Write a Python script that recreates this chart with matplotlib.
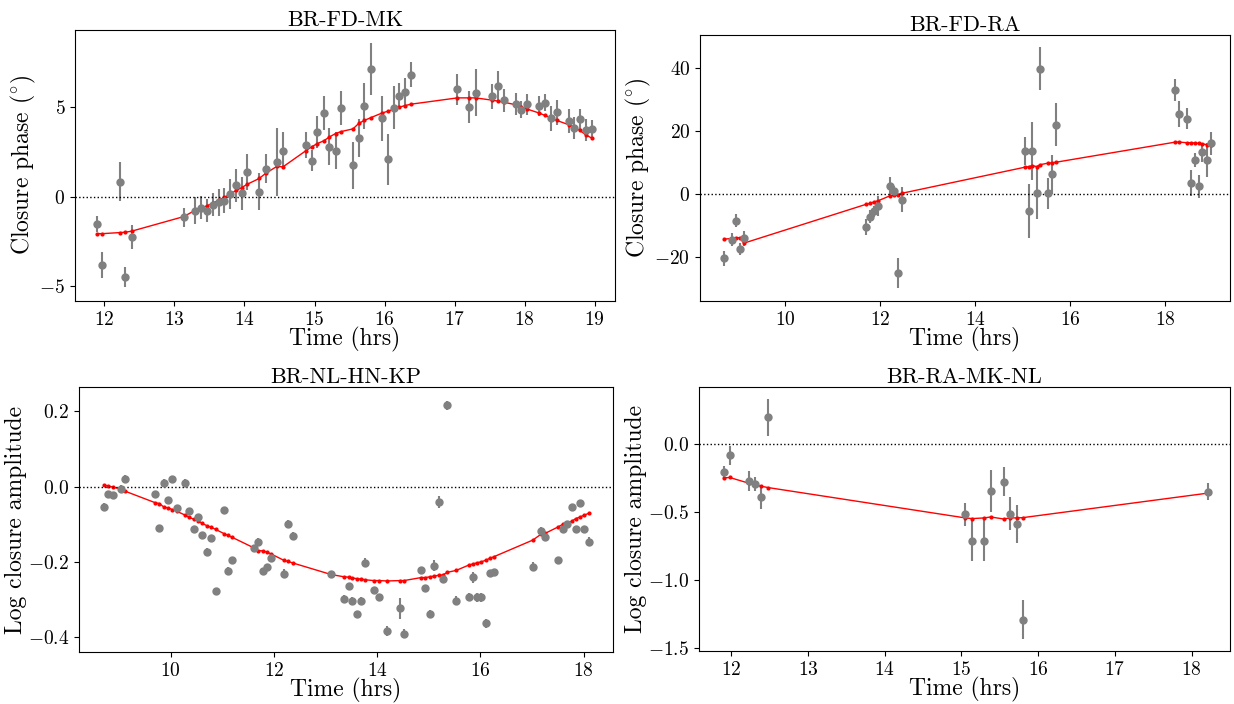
import matplotlib
matplotlib.use('Agg')
import matplotlib.pyplot as plt

plt.rcParams['font.family'] = 'serif'
plt.rcParams['font.serif'] = ['cmr10', 'DejaVu Serif']
plt.rcParams['mathtext.fontset'] = 'cm'
plt.rcParams['axes.formatter.use_mathtext'] = True

# BR-FD-MK closure phase
t_fdmk = [11.89, 11.97, 12.22, 12.30, 12.39, 13.13, 13.30, 13.38, 13.47, 13.55, 13.63, 13.71,
          13.80, 13.88, 13.96, 14.04, 14.21, 14.30, 14.46, 14.55, 14.88, 14.96, 15.04, 15.13,
          15.21, 15.30, 15.38, 15.55, 15.63, 15.71, 15.80, 15.96, 16.05, 16.13, 16.21, 16.29,
          16.38, 17.04, 17.21, 17.30, 17.54, 17.62, 17.70, 17.88, 17.95, 18.04, 18.21, 18.29,
          18.37, 18.46, 18.63, 18.71, 18.79, 18.87, 18.96]
cp_fdmk = [-1.53, -3.82, 0.84, -4.49, -2.25, -1.15, -0.78, -0.61, -0.78, -0.46, -0.31, -0.22,
           0.13, 0.62, 0.19, 1.38, 0.28, 1.56, 1.94, 2.57, 2.87, 2.01, 3.6, 4.66,
           2.79, 2.57, 4.96, 1.75, 3.26, 5.08, 7.13, 4.36, 2.07, 4.97, 5.64, 5.83,
           6.8, 6.0, 5.0, 5.81, 5.61, 6.18, 5.38, 5.16, 4.86, 5.16, 5.05, 5.25,
           4.36, 4.71, 4.23, 3.84, 4.32, 3.71, 3.78]
err_fdmk = [0.47, 0.75, 1.1, 0.58, 0.68, 0.54, 0.75, 0.65, 0.64, 0.65, 0.75, 0.7,
            0.84, 0.93, 0.93, 1.0, 1.04, 0.8, 1.9, 1.02, 0.72, 0.6, 0.88, 0.96,
            1.02, 1.05, 0.96, 1.3, 1.06, 1.28, 1.47, 1.23, 1.43, 1.18, 0.7, 0.81,
            0.7, 0.86, 0.87, 1.3, 0.7, 0.81, 0.65, 0.62, 0.5, 0.58, 0.56, 0.47,
            0.68, 0.7, 0.68, 0.62, 0.56, 0.6, 0.51]
model_fdmk = [-2.07, -2.07, -2.01, -1.99, -1.93, -1.12, -0.76, -0.67, -0.50, -0.37, -0.20, -0.05,
              0.15, 0.34, 0.50, 0.69, 1.01, 1.29, 1.68, 1.66, 2.57, 2.78, 2.96, 3.11,
              3.32, 3.52, 3.63, 3.78, 4.08, 4.25, 4.40, 4.66, 4.77, 4.88, 4.99, 5.08,
              5.16, 5.51, 5.51, 5.51, 5.38, 5.33, 5.27, 5.12, 5.01, 4.88, 4.66, 4.53,
              4.40, 4.25, 4.01, 3.86, 3.69, 3.45, 3.26]

# BR-FD-RA closure phase
t_fdra = [8.70, 8.87, 8.95, 9.04, 9.12, 11.70, 11.79, 11.87, 11.95, 12.20, 12.28, 12.37, 12.45,
          15.04, 15.13, 15.20, 15.29, 15.36, 15.53, 15.62, 15.70,
          18.21, 18.29, 18.45, 18.54, 18.62, 18.70, 18.78, 18.87, 18.96]
cp_fdra = [-20.5, -14.6, -8.5, -17.5, -14.1, -10.5, -7.2, -5.6, -3.8, 2.4, 0.8, -25.2, -1.8,
           13.7, -5.5, 13.7, 0.2, 39.9, 0.2, 6.2, 22.1,
           33.1, 25.4, 24.0, 3.4, 10.8, 2.4, 13.2, 10.8, 16.1]
err_fdra = [2.4, 2.0, 2.0, 2.0, 2.4, 2.5, 2.0, 1.9, 3.2, 3.0, 1.6, 4.9, 4.0,
            4.4, 8.6, 9.2, 8.1, 6.9, 4.9, 6.3, 6.7,
            3.6, 4.2, 3.2, 4.1, 2.2, 3.7, 3.1, 5.4, 3.7]
model_fdra = [-14.4, -14.2, -14.0, -13.9, -15.7, -3.3, -3.0, -2.5, -2.2, -0.6, -0.5, -0.2, 0.2,
              8.5, 8.7, 9.0, 8.7, 9.3, 9.8, 9.9, 10.1,
              16.5, 16.5, 16.3, 16.3, 16.2, 16.1, 15.9, 15.7, 15.6]

# BR-NL-HN-KP log closure amplitude
t_nlhn = [8.70, 8.78, 8.87, 9.04, 9.11, 9.70, 9.78, 9.86, 9.95, 10.03, 10.12, 10.28, 10.36,
          10.45, 10.53, 10.61, 10.70, 10.78, 10.87, 11.03, 11.11, 11.19, 11.61, 11.69, 11.78,
          11.86, 11.94, 12.19, 12.27, 12.36, 13.11, 13.36, 13.45, 13.52,
          13.61, 13.69, 13.77, 13.94, 14.03, 14.19, 14.44, 14.52, 14.85, 14.93, 15.02, 15.10,
          15.19, 15.27, 15.36, 15.53, 15.77, 15.85, 15.93, 16.02, 16.10, 16.18, 16.27, 17.02,
          17.18, 17.26, 17.51, 17.60, 17.68, 17.77, 17.85, 17.93, 18.01, 18.10]
lca_nlhn = [-0.053, -0.020, -0.022, -0.007, 0.020, -0.020, -0.109, 0.009, -0.035, 0.021, -0.057,
            0.010, -0.065, -0.114, -0.081, -0.130, -0.173, -0.136, -0.277, -0.062, -0.224, -0.195,
            -0.163, -0.147, -0.224, -0.213, -0.189, -0.232, -0.099, -0.131, -0.233, -0.299, -0.264,
            -0.303,
            -0.340, -0.303, -0.203, -0.274, -0.295, -0.384, -0.324, -0.391, -0.223, -0.269, -0.339,
            -0.210, -0.041, -0.246, 0.216, -0.303, -0.294, -0.241, -0.294, -0.294, -0.363, -0.229,
            -0.227, -0.213, -0.118, -0.133, -0.196, -0.114, -0.100, -0.054, -0.114, -0.043, -0.114,
            -0.147]
err_nlhn = [0.01, 0.008, 0.008, 0.01, 0.01, 0.008, 0.008, 0.01, 0.008, 0.008, 0.008, 0.01, 0.008,
            0.008, 0.008, 0.008, 0.01, 0.008, 0.008, 0.008, 0.01, 0.008, 0.008, 0.01, 0.008,
            0.008, 0.01, 0.012, 0.01, 0.01, 0.008, 0.01, 0.008, 0.01,
            0.008, 0.01, 0.012, 0.008, 0.01, 0.014, 0.027, 0.012, 0.01, 0.008, 0.01, 0.014,
            0.016, 0.01, 0.012, 0.012, 0.01, 0.015, 0.012, 0.012, 0.012, 0.008, 0.008, 0.012,
            0.01, 0.012, 0.008, 0.008, 0.008, 0.008, 0.008, 0.008, 0.008, 0.012]
model_nlhn = [0.0045, 0.002, -0.001, -0.007, -0.012, -0.043, -0.045, -0.054, -0.057, -0.061, -0.066,
              -0.076, -0.082, -0.087, -0.091, -0.098, -0.104, -0.108, -0.114, -0.125, -0.130, -0.135,
              -0.163, -0.170, -0.171, -0.174, -0.179, -0.196, -0.199, -0.203, -0.234, -0.240, -0.241,
              -0.243,
              -0.245, -0.246, -0.248, -0.250, -0.250, -0.251, -0.250, -0.250, -0.242, -0.242, -0.240,
              -0.238, -0.236, -0.235, -0.228, -0.223, -0.209, -0.206, -0.203, -0.200, -0.196, -0.191,
              -0.186, -0.142, -0.126, -0.124, -0.107, -0.100, -0.097, -0.092, -0.085, -0.081, -0.076,
              -0.071]

# BR-RA-MK-NL log closure amplitude
t_ramk = [11.90, 11.98, 12.23, 12.31, 12.39, 12.48, 15.05, 15.14, 15.30, 15.38, 15.55, 15.63,
          15.72, 15.80, 18.21]
lca_ramk = [-0.201, -0.081, -0.270, -0.294, -0.387, 0.198, -0.515, -0.711, -0.711, -0.346, -0.275,
            -0.510, -0.588, -1.290, -0.348]
err_ramk = [0.04, 0.07, 0.074, 0.05, 0.09, 0.136, 0.083, 0.147, 0.15, 0.153, 0.108, 0.119,
            0.138, 0.145, 0.064]
model_ramk = [-0.248, -0.245, -0.287, -0.299, -0.309, -0.319, -0.542, -0.547, -0.542, -0.535, -0.550,
              -0.542, -0.542, -0.540, -0.360]

W, H = 1234, 704
fig = plt.figure(figsize=(W / 100, H / 100), dpi=100)

cp_label = r'Closure phase (${}^{\circ}$)'
panels = [
    ([75, 30, 615, 301], t_fdmk, cp_fdmk, err_fdmk, model_fdmk, 'BR-FD-MK', cp_label),
    ([700, 35, 1230, 301], t_fdra, cp_fdra, err_fdra, model_fdra, 'BR-FD-RA', cp_label),
    ([79, 387, 613, 652], t_nlhn, lca_nlhn, err_nlhn, model_nlhn, 'BR-NL-HN-KP', 'Log closure amplitude'),
    ([699, 387, 1230, 651], t_ramk, lca_ramk, err_ramk, model_ramk, 'BR-RA-MK-NL', 'Log closure amplitude'),
]

axes = []
for box, t, y, e, m, title, ylab in panels:
    x0, y0, x1, y1 = box
    ax = fig.add_axes([x0 / W, 1 - y1 / H, (x1 - x0) / W, (y1 - y0) / H])
    ax.errorbar(t, y, yerr=e, fmt='o', color='gray', ecolor='gray', markersize=5,
                elinewidth=1.5, capsize=0)
    ax.plot(t, m, 'r.-', markersize=4, linewidth=1)
    ax.axhline(0, color='k', ls=':', lw=1)
    ax.set_title(title, fontsize=16, pad=3)
    ax.set_xlabel('Time (hrs)', fontsize=17, labelpad=-1)
    ax.set_ylabel(ylab, fontsize=17, labelpad=1)
    ax.tick_params(labelsize=14)
    axes.append(ax)

axes[0].set_xlim(11.58, 19.29)
axes[0].set_ylim(-5.83, 9.3)
axes[0].set_yticks([-5, 0, 5])
axes[1].set_xlim(8.2, 19.36)
axes[1].set_ylim(-34.1, 50.6)
axes[2].set_xlim(8.22, 18.57)
axes[2].set_ylim(-0.44, 0.265)
axes[3].set_xlim(11.58, 18.5)
axes[3].set_ylim(-1.52, 0.42)

fig.savefig('out.png', dpi=100)
